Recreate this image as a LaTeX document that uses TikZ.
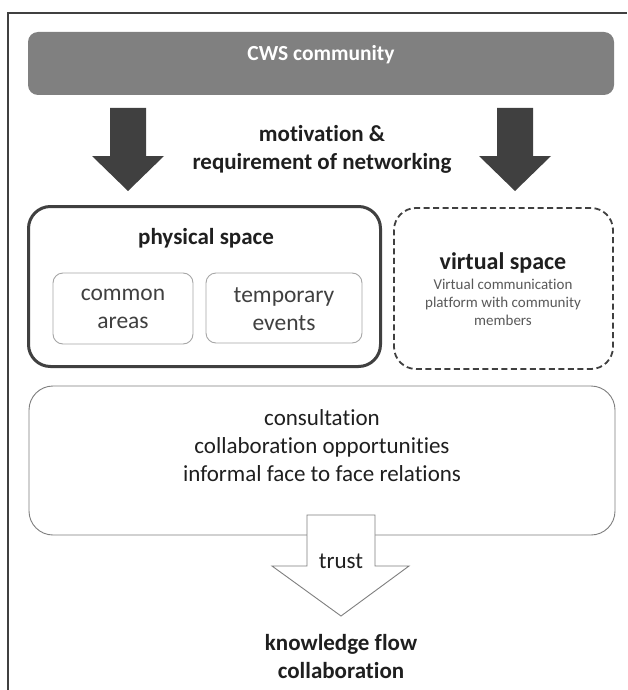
\documentclass[tikz,border=0pt]{standalone}
\usepackage{fontspec}
\setmainfont{Carlito}[RawFeature={-liga;-clig;-dlig}]
\definecolor{inktext}{HTML}{1F1F1F}
\definecolor{softtext}{HTML}{404040}
\definecolor{faintext}{HTML}{595959}
\definecolor{bargray}{HTML}{808080}
\definecolor{darkgray}{HTML}{404040}
\definecolor{thinline}{HTML}{A6A6A6}
\definecolor{midline}{HTML}{7F7F7F}
\begin{document}
\begin{tikzpicture}[x=1pt,y=-1pt,
  every node/.style={inner sep=0pt, outer sep=0pt},
  titlebar/.style={fill=bargray, rounded corners=10pt, draw=none},
  physbox/.style={draw=darkgray, line width=3pt, rounded corners=22pt},
  virtbox/.style={draw=darkgray, line width=1.8pt, dash pattern=on 6pt off 3.5pt, rounded corners=22pt},
  subbox/.style={draw=thinline, line width=0.9pt, rounded corners=10pt},
  effectbox/.style={draw=midline, line width=0.9pt, rounded corners=24pt},
  bigtext/.style={font=\fontsize{23}{28}\selectfont, align=center, text=inktext},
  headtext/.style={font=\bfseries\fontsize{23}{28}\selectfont, align=center, text=inktext},
  subtext/.style={font=\fontsize{23.5}{28}\selectfont, align=center, text=softtext},
  smalltext/.style={font=\fontsize{15}{18}\selectfont, align=center, text=faintext},
  blockarrow/.style={fill=darkgray, draw=none},
  hollowarrow/.style={draw=midline, line width=0.9pt, fill=white, line join=miter}
]
\useasboundingbox (0,0) rectangle (627,690);
\fill[white] (0,0) rectangle (627,690);

% outer frame (top and left edges)
\draw[line width=1.4pt, draw=darkgray] (8,690) -- (8,13) -- (627,13);

% community bar
\node[titlebar, minimum width=586pt, minimum height=63pt] (bar) at (321,63.5) {};
\node[font=\bfseries\fontsize{21.5}{26}\selectfont, text=white] (barlabel) at (321,55) {CWS community};

% two solid down arrows
\fill[blockarrow] (110,108) -- (146,108) -- (146,156) -- (164,156) -- (128,191) -- (92,156) -- (110,156) -- cycle;
\fill[blockarrow] (497,108) -- (533,108) -- (533,156) -- (551,156) -- (515,191) -- (479,156) -- (497,156) -- cycle;
\node[headtext] (motiv) at (322,149) {motivation \&\\requirement of networking};

% physical space
\node[physbox, minimum width=352pt, minimum height=160pt] (phys) at (204.5,286.5) {};
\node[headtext] (physlabel) at (206,238) {physical space};
\node[subbox, minimum width=140pt, minimum height=71pt] (common) at (123,308.5) {};
\node[subtext] (commonlabel) at (123,309) {common\\areas};
\node[subbox, minimum width=156pt, minimum height=70pt] (temp) at (284,308) {};
\node[subtext] (templabel) at (284,309) {temporary\\events};

% virtual space
\node[virtbox, minimum width=219pt, minimum height=161pt] (virt) at (503.5,288.5) {};
\node[font=\bfseries\fontsize{24}{28}\selectfont, text=inktext] (virtlabel) at (503,263) {virtual space};
\node[smalltext] (virtdesc) at (503,302) {Virtual communication\\platform with community\\members};

% effects box
\node[effectbox, minimum width=586pt, minimum height=149pt] (effects) at (322,460.5) {};
\node[bigtext] (effectlabel) at (322,446) {consultation\\collaboration opportunities\\informal face to face relations};

% hollow arrow labelled trust
\draw[hollowarrow] (307,515) -- (375,515) -- (375,566) -- (409,566) -- (341,616) -- (272,566) -- (307,566) -- cycle;
\node[bigtext] (trust) at (341,561) {trust};

% outcome
\node[headtext] (outcome) at (341,657) {knowledge flow\\collaboration};
\end{tikzpicture}
\end{document}
